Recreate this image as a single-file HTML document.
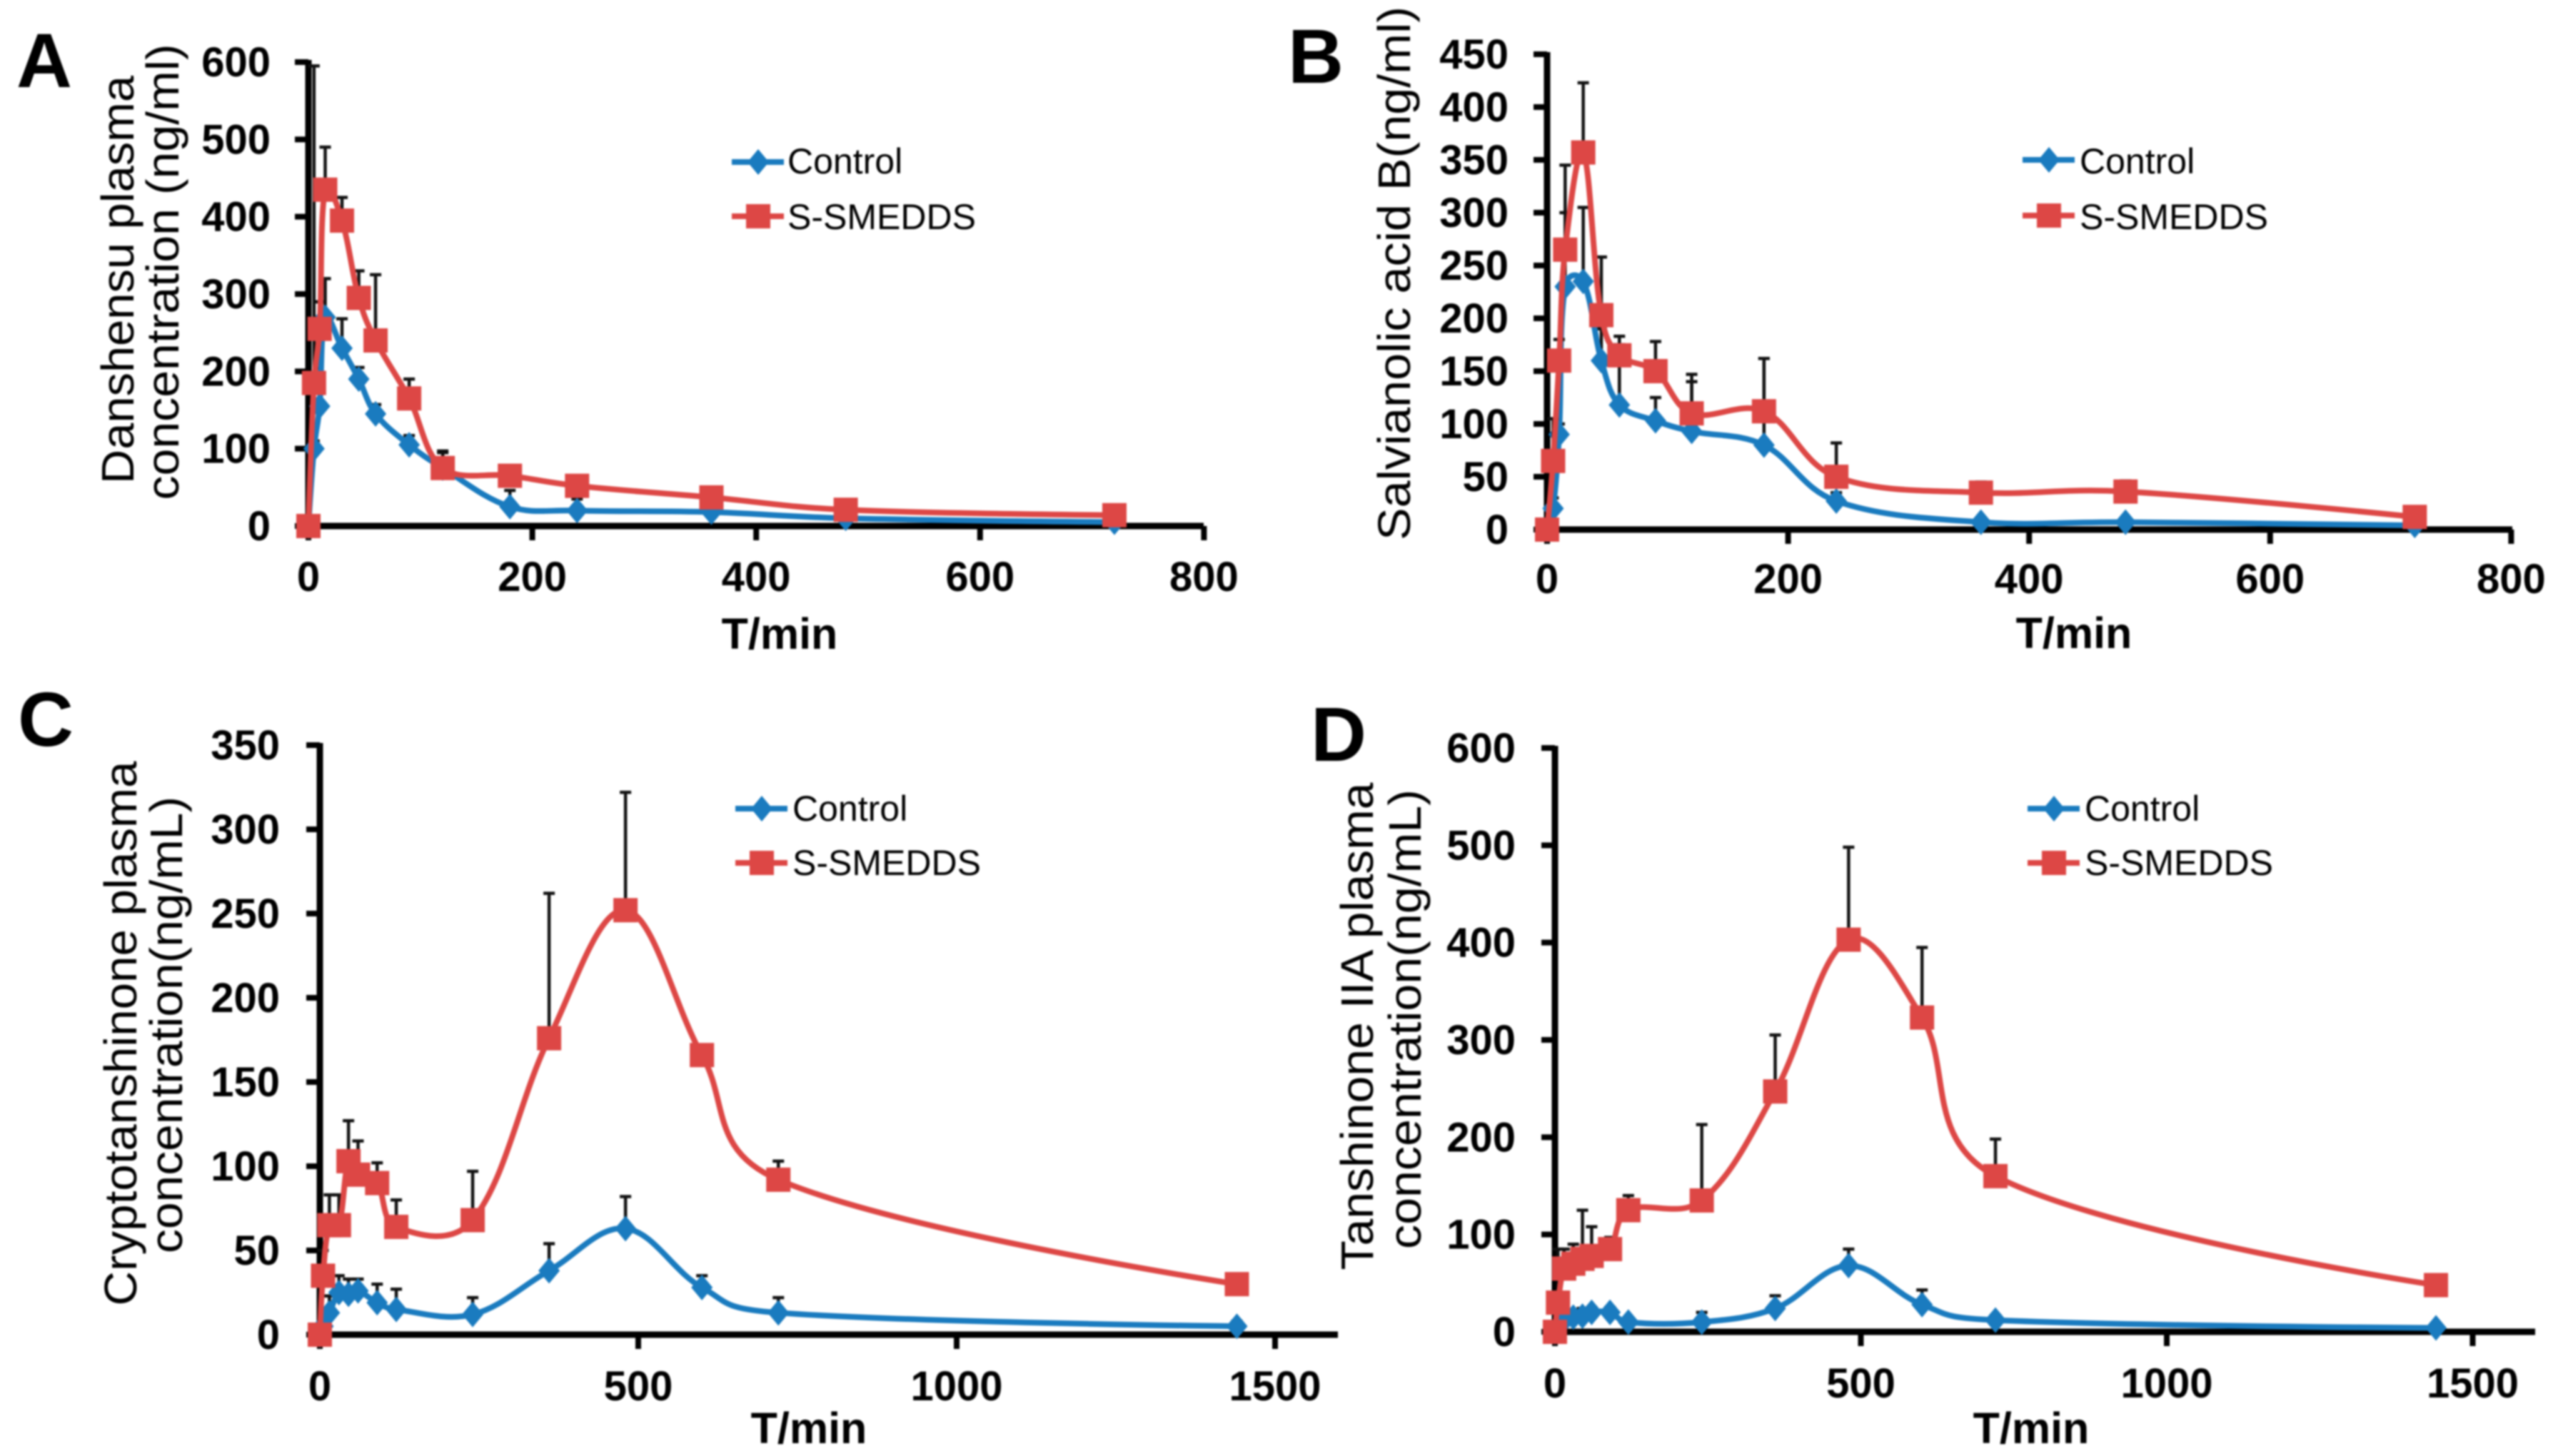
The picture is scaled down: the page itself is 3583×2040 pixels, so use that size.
<!DOCTYPE html>
<html lang="en">
<head>
<meta charset="utf-8">
<title>Plasma concentration curves</title>
<style>
html,body{margin:0;padding:0;background:#fff;width:3583px;height:2040px;overflow:hidden}
svg{display:block;filter:blur(1.4px)}
text{font-family:"Liberation Sans",Arial,sans-serif;fill:#000}
.tick{font-size:58px;font-weight:bold}
.xtitle{font-size:61px;font-weight:bold;text-anchor:middle}
.ytitle{font-size:64px;text-anchor:middle}
.letter{font-size:108px;font-weight:bold}
.leg{font-size:50px}
</style>
</head>
<body>
<svg id="figure" xmlns="http://www.w3.org/2000/svg" width="3583" height="2040" viewBox="0 0 3583 2040">
<rect width="3583" height="2040" fill="#fff"/>

<text class="letter" x="23" y="122">A</text>
<text class="letter" x="1804" y="116">B</text>
<text class="letter" x="25" y="1045">C</text>
<text class="letter" x="1836" y="1066">D</text>

<text class="ytitle" transform="translate(187,392) rotate(-90)" textLength="572" lengthAdjust="spacingAndGlyphs">Danshensu plasma</text>
<text class="ytitle" transform="translate(250,381) rotate(-90)" textLength="639" lengthAdjust="spacingAndGlyphs">concentration (ng/ml)</text>
<text class="ytitle" transform="translate(1975,383) rotate(-90)" textLength="748" lengthAdjust="spacingAndGlyphs">Salvianolic acid B(ng/ml)</text>
<text class="ytitle" transform="translate(191,1448) rotate(-90)" textLength="763" lengthAdjust="spacingAndGlyphs">Cryptotanshinone plasma</text>
<text class="ytitle" transform="translate(255,1436) rotate(-90)" textLength="640" lengthAdjust="spacingAndGlyphs">concentration(ng/mL)</text>
<text class="ytitle" transform="translate(1923,1438) rotate(-90)" textLength="683" lengthAdjust="spacingAndGlyphs">Tanshinone IIA plasma</text>
<text class="ytitle" transform="translate(1990,1428) rotate(-90)" textLength="644" lengthAdjust="spacingAndGlyphs">concentration(ng/mL)</text>

<text class="xtitle" x="1092" y="909">T/min</text>
<text class="xtitle" x="2905" y="908">T/min</text>
<text class="xtitle" x="1133" y="2022">T/min</text>
<text class="xtitle" x="2845" y="2022">T/min</text>

<g id="panel-a"></g>
<g id="panel-b"></g>
<g id="panel-c"></g>
<g id="panel-d"></g>

<g>
  <text class="leg" x="1103" y="243">Control</text>
  <text class="leg" x="1103" y="321">S-SMEDDS</text>
</g>
<g>
  <text class="leg" x="2913" y="243">Control</text>
  <text class="leg" x="2913" y="321">S-SMEDDS</text>
</g>
<g>
  <text class="leg" x="1110" y="1150">Control</text>
  <text class="leg" x="1110" y="1226">S-SMEDDS</text>
</g>
<g>
  <text class="leg" x="2920" y="1150">Control</text>
  <text class="leg" x="2920" y="1226">S-SMEDDS</text>
</g>
<g id="legend-marks"></g>
</svg>

<script>
// Panel A
const aTimes = [0,5,10,15,30,45,60,90,120,180,240,360,480,720];
const aControl = [0,100,155,270,230,190,145,105,75,25,20,18,10,5];
const aControlSd = [0,10,135,50,38,15,12,12,22,21,15,6,5,3];
const aSmedds = [0,185,255,435,395,295,240,165,75,65,52,37,21,14];
const aSmeddsSd = [0,410,35,55,30,35,85,25,20,10,8,5,5,3];
const aYTicks = [0,100,200,300,400,500,600];
const aXTicks = [0,200,400,600,800];

// Panel B
const bTimes = [0,5,10,15,30,45,60,90,120,180,240,360,480,720];
const bControl = [0,20,90,230,235,160,118,103,93,80,27,7,7,4];
const bControlSd = [0,10,10,70,70,30,57,22,47,82,8,3,3,2];
const bSmedds = [0,65,160,265,357,203,165,150,110,112,50,35,36,12];
const bSmeddsSd = [0,40,20,80,66,55,18,28,37,50,32,10,10,5];
const bYTicks = [0,50,100,150,200,250,300,350,400,450];
const bXTicks = [0,200,400,600,800];

// Panel C
const cTimes = [0,5,15,30,45,60,90,120,240,360,480,600,720,1440];
const cControl = [0,5,13,25,24,26,19,15,12,38,63,28,13,5];
const cControlSd = [0,5,10,10,9,7,11,12,10,16,19,7,9,3];
const cSmedds = [0,35,65,65,103,95,90,64,68,176,252,166,92,30];
const cSmeddsSd = [0,15,18,18,24,20,12,16,29,86,70,6,11,3];
const cYTicks = [0,50,100,150,200,250,300,350];
const cXTicks = [0,500,1000,1500];

// Panel D
const dTimes = [0,5,15,30,45,60,90,120,240,360,480,600,720,1440];
const dControl = [0,5,12,15,16,20,20,10,10,24,68,28,12,4];
const dControlSd = [0,3,5,5,8,5,5,3,10,13,17,15,5,3];
const dSmedds = [0,30,65,70,75,78,85,125,135,247,403,323,160,48];
const dSmeddsSd = [0,55,20,20,50,30,12,15,78,58,95,72,38,5];
const dYTicks = [0,100,200,300,400,500,600];
const dXTicks = [0,500,1000,1500];

const SVGNS = 'http://www.w3.org/2000/svg';
const BLUE = '#1a7bbf';
const RED = '#dd4745';

function make(tag, attrs, parent) {
  const el = document.createElementNS(SVGNS, tag);
  for (const k in attrs) el.setAttribute(k, attrs[k]);
  parent.appendChild(el);
  return el;
}

function chord(a, b) {
  return Math.sqrt(Math.hypot(a[0] - b[0], a[1] - b[1])) || 1;
}

function smoothPath(pts) {
  const K = 0.36;
  const last = pts.length - 1;
  const handles = pts.map(function (p, i) {
    if (i === 0 || i === last) return {ix: 0, iy: 0, ox: 0, oy: 0};
    const a = chord(pts[i - 1], p), b = chord(p, pts[i + 1]);
    const tx = pts[i + 1][0] - pts[i - 1][0], ty = pts[i + 1][1] - pts[i - 1][1];
    const wi = K * a / (a + b), wo = K * b / (a + b);
    return {ix: tx * wi, iy: ty * wi, ox: tx * wo, oy: ty * wo};
  });
  let d = 'M' + pts[0][0] + ' ' + pts[0][1];
  for (let i = 0; i < last; i++) {
    d += 'C' + (pts[i][0] + handles[i].ox) + ' ' + (pts[i][1] + handles[i].oy) + ' ' +
         (pts[i + 1][0] - handles[i + 1].ix) + ' ' + (pts[i + 1][1] - handles[i + 1].iy) + ' ' +
         pts[i + 1][0] + ' ' + pts[i + 1][1];
  }
  return d;
}

function drawDiamond(parent, cx, cy, name) {
  const m = make('polygon', {points: (cx-15)+','+cy+' '+cx+','+(cy-18)+' '+(cx+15)+','+cy+' '+cx+','+(cy+18), fill: BLUE}, parent);
  
  
}

function drawSquare(parent, cx, cy, name) {
  const m = make('rect', {x: cx-17, y: cy-17, width: 34, height: 34, fill: RED}, parent);
  
  
}

function drawSeries(parent, times, values, sds, sx, sy, color, width, marker, key) {
  times.forEach(function (t, i) {
    const top = sy(values[i] + sds[i]);
    if (sds[i] <= 0) return;
    const bar = make('path', {d: 'M'+sx(t)+' '+sy(values[i])+'V'+top+'M'+(sx(t)-8)+' '+top+'H'+(sx(t)+8), stroke: '#111', 'stroke-width': 4.5, fill: 'none'}, parent);
    
    
  });
  const pts = times.map(function (t, i) { return [sx(t), sy(values[i])]; });
  const line = make('path', {d: smoothPath(pts), stroke: color, 'stroke-width': width, fill: 'none', 'stroke-linejoin': 'round'}, parent);
  
  
  times.forEach(function (t, i) {
    marker(parent, sx(t), sy(values[i]), key + '-point');
  });
}

function drawPanel(id, geo, times, control, controlSd, smedds, smeddsSd, yTicks, xTicks) {
  const g = document.getElementById(id);
  const sx = function (v) { return geo.x0 + v * geo.xUnit; };
  const sy = function (v) { return geo.y0 - v * geo.yUnit; };
  const yMax = yTicks[yTicks.length - 1];

  const yAxis = make('line', {x1: geo.x0, x2: geo.x0, y1: sy(yMax) - 3, y2: geo.y0 + 4, stroke: '#000', 'stroke-width': 9}, g);
  
  
  const xAxis = make('line', {x1: geo.x0, x2: geo.xEnd, y1: geo.y0, y2: geo.y0, stroke: '#000', 'stroke-width': 9}, g);
  
  

  yTicks.forEach(function (v) {
    const tick = make('line', {x1: geo.x0 - 19, x2: geo.x0, y1: sy(v), y2: sy(v), stroke: '#000', 'stroke-width': 8}, g);
    
    
    const label = make('text', {class: 'tick', x: geo.yLabelX, y: sy(v) + 20, 'text-anchor': 'end'}, g);
    
    
    label.textContent = v;
  });
  xTicks.forEach(function (v) {
    const tick = make('line', {x1: sx(v), x2: sx(v), y1: geo.y0, y2: geo.y0 + 20, stroke: '#000', 'stroke-width': 8}, g);
    
    
    const label = make('text', {class: 'tick', x: sx(v), y: geo.xLabelY, 'text-anchor': 'middle'}, g);
    
    
    label.textContent = v;
  });

  drawSeries(g, times, control, controlSd, sx, sy, BLUE, 8, drawDiamond, 'control');
  drawSeries(g, times, smedds, smeddsSd, sx, sy, RED, 8, drawSquare, 's-smedds');
}

drawPanel('panel-a', {x0:432, y0:737, xUnit:1.568, yUnit:650/600, xEnd:1686, yLabelX:379, xLabelY:828}, aTimes, aControl, aControlSd, aSmedds, aSmeddsSd, aYTicks, aXTicks);
drawPanel('panel-b', {x0:2167, y0:742, xUnit:1.688, yUnit:666/450, xEnd:3519, yLabelX:2113, xLabelY:831}, bTimes, bControl, bControlSd, bSmedds, bSmeddsSd, bYTicks, bXTicks);
drawPanel('panel-c', {x0:448, y0:1870, xUnit:0.892, yUnit:826/350, xEnd:1874, yLabelX:392, xLabelY:1962}, cTimes, cControl, cControlSd, cSmedds, cSmeddsSd, cYTicks, cXTicks);
drawPanel('panel-d', {x0:2178, y0:1866, xUnit:0.857, yUnit:818/600, xEnd:3551, yLabelX:2123, xLabelY:1958}, dTimes, dControl, dControlSd, dSmedds, dSmeddsSd, dYTicks, dXTicks);

const legendGroup = document.getElementById('legend-marks');
[[1025,227,303],[2833,224,302],[1030,1133,1209],[2840,1133,1209]].forEach(function (spot) {
  const blueLine = make('line', {x1: spot[0], x2: spot[0] + 73, y1: spot[1], y2: spot[1], stroke: BLUE, 'stroke-width': 8}, legendGroup);
  
  
  drawDiamond(legendGroup, spot[0] + 37, spot[1], 'legend-marker-control');
  const redLine = make('line', {x1: spot[0], x2: spot[0] + 73, y1: spot[2], y2: spot[2], stroke: RED, 'stroke-width': 8}, legendGroup);
  
  
  drawSquare(legendGroup, spot[0] + 37, spot[2], 'legend-marker-s-smedds');
});
</script>
</body>
</html>
